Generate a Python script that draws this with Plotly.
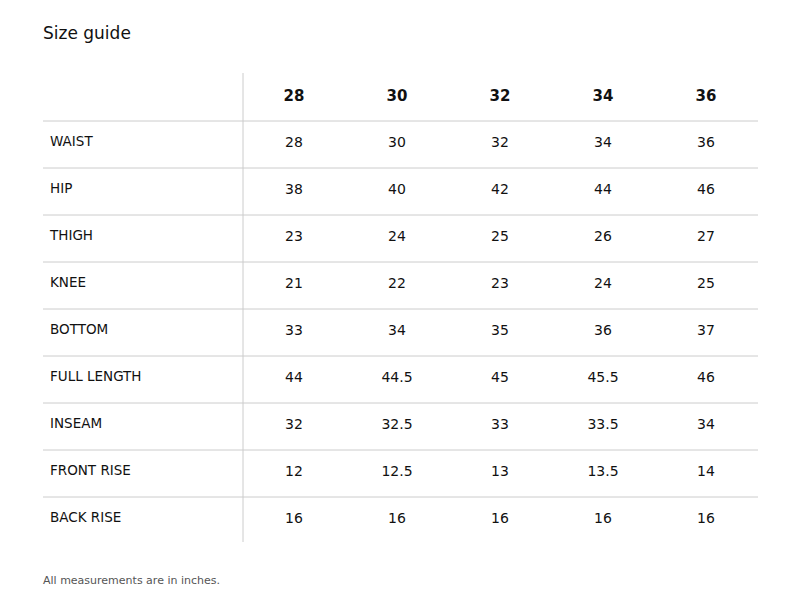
import plotly.graph_objects as go

sizes = ["28", "30", "32", "34", "36"]
measures = ["WAIST", "HIP", "THIGH", "KNEE", "BOTTOM", "FULL LENGTH", "INSEAM", "FRONT RISE", "BACK RISE"]
values = [
    ["28", "30", "32", "34", "36"],
    ["38", "40", "42", "44", "46"],
    ["23", "24", "25", "26", "27"],
    ["21", "22", "23", "24", "25"],
    ["33", "34", "35", "36", "37"],
    ["44", "44.5", "45", "45.5", "46"],
    ["32", "32.5", "33", "33.5", "34"],
    ["12", "12.5", "13", "13.5", "14"],
    ["16", "16", "16", "16", "16"],
]

W, H = 800, 611
OFF = 8  # page body margin offset
col_x = [294 - OFF + 103 * i for i in range(len(sizes))]
row_y = [143 - OFF + 47 * j for j in range(len(measures))]
header_y = 97 - OFF
FONT = "DejaVu Sans"

fig = go.Figure()
fig.add_trace(go.Scatter(x=col_x, y=[header_y] * len(sizes), text=[f"<b>{s}</b>" for s in sizes],
                         mode="text", textfont=dict(size=15, color="#111", family=FONT), hoverinfo="skip"))
fig.add_trace(go.Scatter(x=[50 - OFF] * len(measures), y=row_y, text=measures, mode="text",
                         textposition="middle right", textfont=dict(size=13.5, color="#111", family=FONT), hoverinfo="skip"))
xs, ys, ts = [], [], []
for j, row in enumerate(values):
    for i, v in enumerate(row):
        xs.append(col_x[i]); ys.append(row_y[j]); ts.append(v)
fig.add_trace(go.Scatter(x=xs, y=ys, text=ts, mode="text",
                         textfont=dict(size=14, color="#111", family=FONT), hoverinfo="skip"))

shapes = [dict(type="line", x0=243 - OFF, x1=243 - OFF, y0=73 - OFF, y1=542 - OFF,
               line=dict(color="#cccccc", width=1))]
for j in range(len(measures)):
    y = 121 - OFF + 47 * j
    shapes.append(dict(type="line", x0=43 - OFF, x1=758 - OFF, y0=y, y1=y, line=dict(color="#cccccc", width=1)))

fig.update_layout(
    width=W, height=H, margin=dict(l=0, r=0, t=0, b=0),
    plot_bgcolor="white", paper_bgcolor="white", showlegend=False,
    xaxis=dict(range=[0, W], visible=False, fixedrange=True),
    yaxis=dict(range=[H, 0], visible=False, fixedrange=True),
    shapes=shapes,
    annotations=[
        dict(x=41 - OFF, y=33 - OFF, xref="x", yref="y", text="Size guide", showarrow=False, xanchor="left",
             yanchor="middle", font=dict(size=17, color="#111", family=FONT)),
        dict(x=41 - OFF, y=580 - OFF, xref="x", yref="y", text="All measurements are in inches.", showarrow=False,
             xanchor="left", yanchor="middle", font=dict(size=11, color="#555", family=FONT)),
    ],
)
fig.write_html("out.html")
